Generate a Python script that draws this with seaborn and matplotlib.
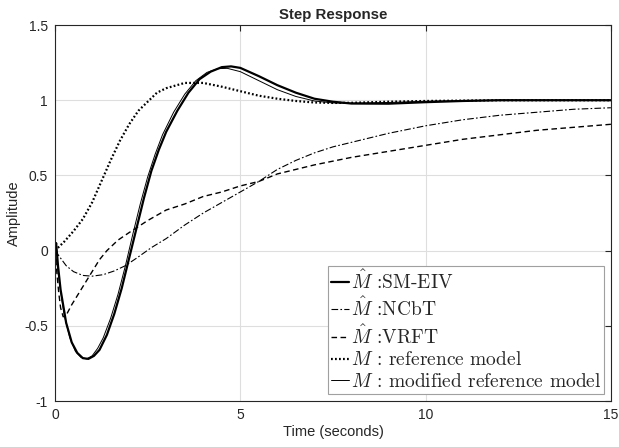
import numpy as np
import pandas as pd
import seaborn as sns
import matplotlib
matplotlib.use("Agg")
import matplotlib.pyplot as plt

# values
t_sm = [0, 0.03, 0.08, 0.15, 0.3, 0.45, 0.6, 0.75, 0.9, 1.05, 1.2, 1.4, 1.6, 1.8, 2.0, 2.2, 2.4,
        2.6, 2.8, 3.0, 3.3, 3.6, 3.9, 4.2, 4.5, 4.75, 5.0, 5.5, 6.0, 6.5, 7.0, 7.5, 8.0, 9, 10, 11, 12, 15]
y_sm = [0, 0.05, -0.1, -0.26, -0.48, -0.61, -0.68, -0.715, -0.72, -0.7, -0.66, -0.56, -0.42, -0.25,
        -0.05, 0.15, 0.35, 0.53, 0.67, 0.79, 0.93, 1.05, 1.14, 1.19, 1.22, 1.225, 1.215, 1.16, 1.1,
        1.05, 1.01, 0.99, 0.978, 0.977, 0.987, 0.995, 1.0, 1.0]

t_ncbt = [0, 0.15, 0.3, 0.5, 0.75, 1.0, 1.3, 1.6, 1.9, 2.2, 2.6, 3.0, 3.5, 4.0, 4.5, 5.0, 5.5, 6.0,
          6.5, 7.0, 7.5, 8.0, 9.0, 10, 11, 12, 13, 14, 15]
y_ncbt = [0, -0.05, -0.1, -0.14, -0.165, -0.17, -0.16, -0.135, -0.1, -0.05, 0.02, 0.08, 0.17, 0.25,
          0.32, 0.39, 0.46, 0.54, 0.6, 0.65, 0.69, 0.72, 0.78, 0.83, 0.87, 0.9, 0.92, 0.94, 0.95]

t_vrft = [0, 0.05, 0.1, 0.15, 0.22, 0.3, 0.45, 0.6, 0.8, 1.0, 1.2, 1.4, 1.7, 2.0, 2.5, 3.0, 3.5, 4.0,
          4.5, 5.0, 5.5, 6.0, 7.0, 8.0, 9.0, 10, 11, 12, 13, 14, 15]
y_vrft = [0, -0.15, -0.28, -0.38, -0.44, -0.43, -0.36, -0.3, -0.22, -0.14, -0.06, 0.0, 0.07, 0.12,
          0.2, 0.27, 0.31, 0.36, 0.39, 0.43, 0.46, 0.51, 0.57, 0.62, 0.66, 0.7, 0.74, 0.77, 0.8, 0.82, 0.84]

t_ref = [0, 0.25, 0.5, 0.75, 1.0, 1.25, 1.5, 1.75, 2.0, 2.25, 2.5, 2.75, 3.0, 3.5, 4.0, 4.5, 5.0,
         5.5, 6.0, 6.5, 7, 7.5, 8, 9, 10, 12, 15]
y_ref = [0, 0.06, 0.13, 0.21, 0.32, 0.46, 0.6, 0.73, 0.84, 0.93, 0.99, 1.05, 1.08, 1.115, 1.115,
         1.09, 1.06, 1.03, 1.01, 0.995, 0.985, 0.982, 0.983, 0.99, 0.995, 1.0, 1.0]

t_mod = [0, 0.05, 0.12, 0.25, 0.4, 0.55, 0.7, 0.85, 1.0, 1.15, 1.3, 1.5, 1.7, 1.9, 2.1, 2.3, 2.5,
         2.7, 2.9, 3.2, 3.5, 3.8, 4.1, 4.4, 4.65, 5.0, 5.5, 6.0, 6.5, 7.0, 7.5, 8.0, 9, 10, 12, 15]
y_mod = [0, -0.08, -0.22, -0.43, -0.58, -0.67, -0.71, -0.72, -0.7, -0.65, -0.58, -0.45, -0.29, -0.1,
         0.11, 0.31, 0.49, 0.64, 0.77, 0.92, 1.04, 1.13, 1.185, 1.21, 1.212, 1.19, 1.13, 1.07, 1.025,
         0.995, 0.982, 0.98, 0.985, 0.993, 1.0, 1.0]

labels = [r"$\hat{M}$ :SM-EIV", r"$\hat{M}$ :NCbT", r"$\hat{M}$ :VRFT",
          r"$M$ : reference model", r"$M$ : modified reference model"]

sns.set_style("whitegrid")
plt.rcParams["font.family"] = ["Liberation Sans", "DejaVu Sans"]
plt.rcParams["mathtext.fontset"] = "cm"

fig = plt.figure(figsize=(6.19, 4.47), dpi=100)
ax = fig.add_axes([0.0889, 0.1029, 0.898, 0.8411])

sns.lineplot(x=t_sm, y=y_sm, ax=ax, color="black", lw=1.6, label=labels[0], sort=False)
sns.lineplot(x=t_ncbt, y=y_ncbt, ax=ax, color="black", lw=0.8, ls=(0, (6, 2, 1.5, 2)),
             label=labels[1], sort=False)
sns.lineplot(x=t_vrft, y=y_vrft, ax=ax, color="black", lw=1.0, ls=(0, (4, 2.5)),
             label=labels[2], sort=False)
sns.lineplot(x=t_ref, y=y_ref, ax=ax, color="black", lw=1.6, ls=(0, (0.8, 1.0)),
             label=labels[3], sort=False)
sns.lineplot(x=t_mod, y=y_mod, ax=ax, color="black", lw=0.7, label=labels[4], sort=False)

ax.set_xlim(0, 15)
ax.set_ylim(-1, 1.5)
ax.set_xticks([0, 5, 10, 15])
ax.set_yticks([-1, -0.5, 0, 0.5, 1, 1.5])
ax.set_xticklabels(["0", "5", "10", "15"])
ax.set_yticklabels(["-1", "-0.5", "0", "0.5", "1", "1.5"])
ax.tick_params(direction="in", length=4, width=0.8, colors="#262626", labelsize=10,
               top=True, right=True, pad=5)
ax.grid(True, color="#dedede", lw=0.8)
for s in ax.spines.values():
    s.set_visible(True)
    s.set_color("#262626")
    s.set_linewidth(0.8)

ax.set_title("Step Response", fontsize=10.8, fontweight="bold", pad=4)
ax.set_xlabel("Time (seconds)", fontsize=10.5, color="#262626", labelpad=2)
ax.set_ylabel("Amplitude", fontsize=10.5, color="#262626", labelpad=2)

leg = ax.legend(loc="lower right", prop={"family": "cmr10", "size": 14}, handlelength=0.9,
                handletextpad=0.1, borderpad=0.15, labelspacing=0.2, borderaxespad=0.35,
                fancybox=False, framealpha=1, edgecolor="#a0a0a0")
leg.get_frame().set_linewidth(0.8)

fig.savefig("out.png", dpi=100)
